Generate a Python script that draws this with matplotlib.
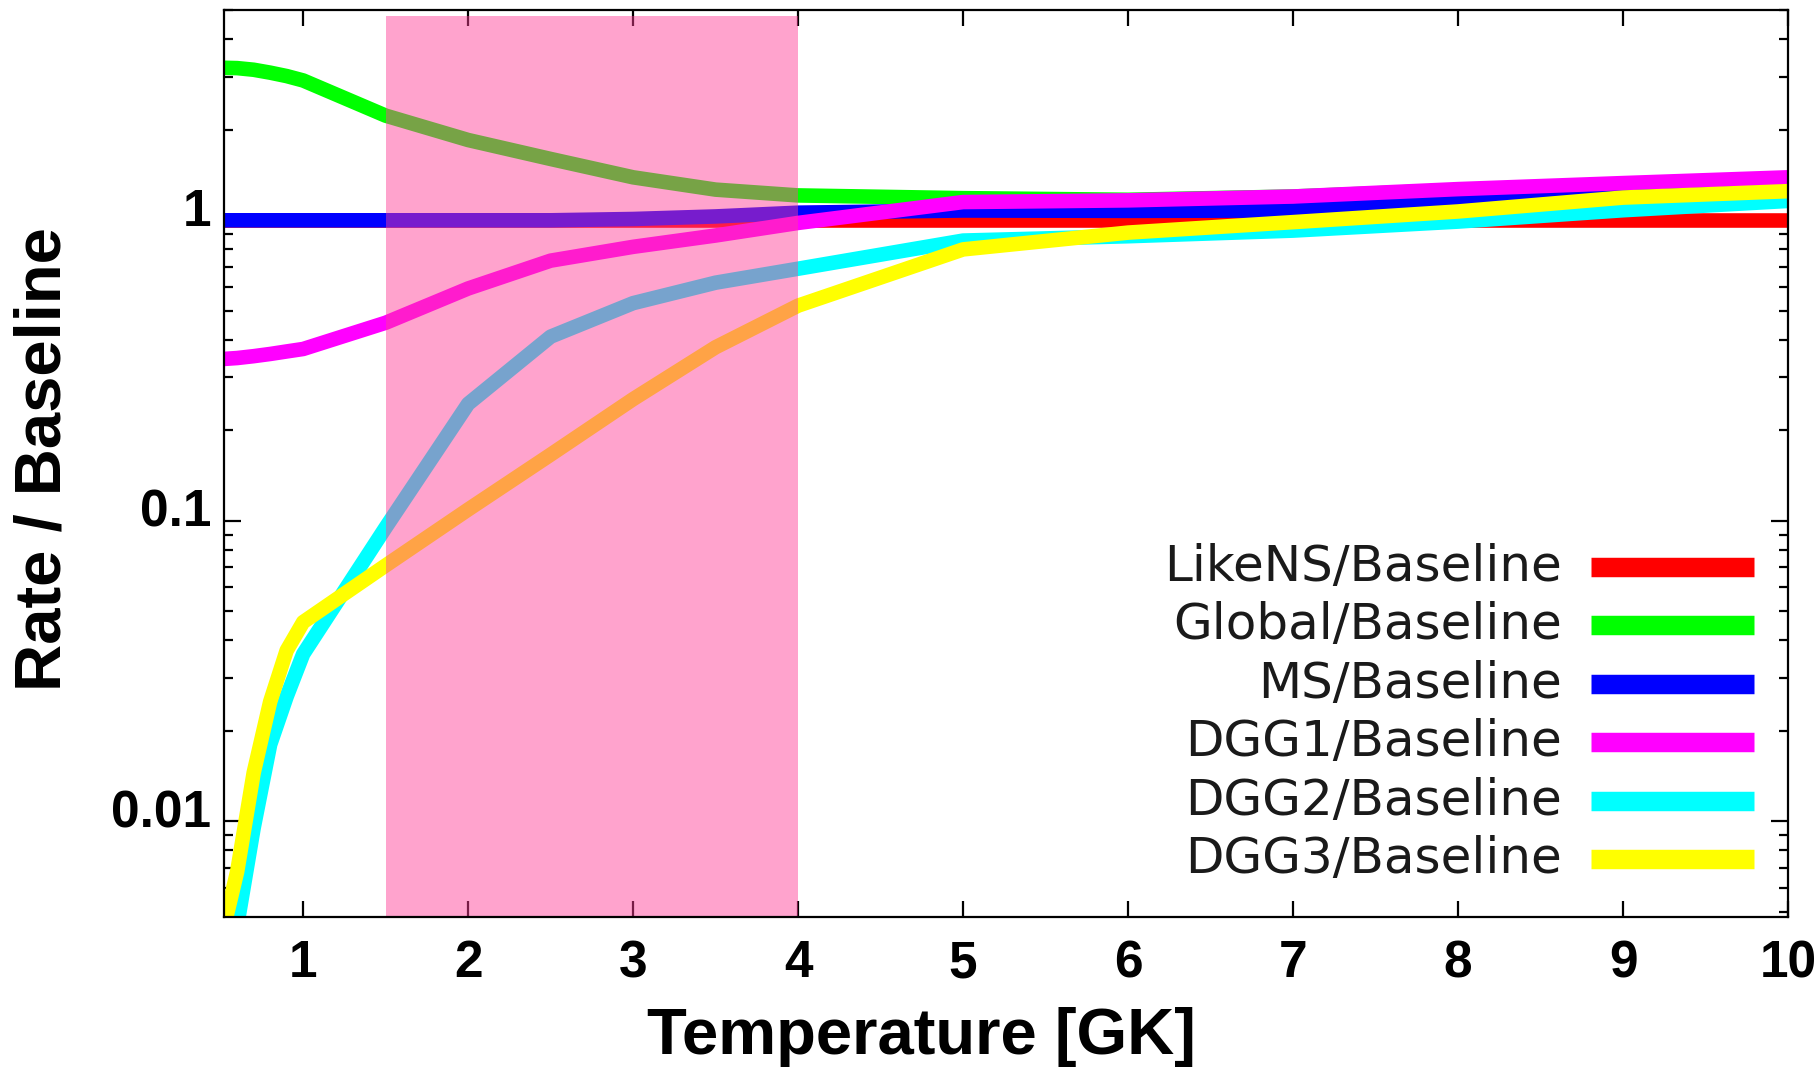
import matplotlib
matplotlib.use("Agg")
import matplotlib.pyplot as plt
import matplotlib.transforms as mtransforms
from matplotlib import font_manager

# data (ratio to baseline rate)
temps = [0.5, 0.6, 0.7, 0.8, 0.9, 1.0, 1.5, 2.0, 2.5, 3.0, 3.5, 4.0, 5.0, 6.0, 7.0, 8.0, 9.0, 10.0]
likens = [1.0, 1.0, 1.0, 1.0, 1.0, 1.0, 1.0, 1.0, 1.0, 1.0, 1.0, 1.0, 1.0, 1.0, 1.0, 1.0, 1.0, 1.0]
global_ = [3.22, 3.21, 3.17, 3.10, 3.02, 2.92, 2.23, 1.85, 1.60, 1.39, 1.265, 1.21, 1.185, 1.17, 1.20, 1.26, 1.32, 1.37]
ms = [1.0, 1.0, 1.0, 1.0, 1.0, 1.0, 1.0, 1.0, 1.0, 1.01, 1.03, 1.06, 1.078, 1.075, 1.078, 1.15, 1.25, 1.30]
dgg1 = [0.345, 0.348, 0.353, 0.359, 0.366, 0.373, 0.456, 0.593, 0.734, 0.816, 0.89, 0.98, 1.15, 1.165, 1.20, 1.27, 1.33, 1.39]
dgg2 = [0.0022, 0.0045, 0.0095, 0.018, 0.026, 0.036, 0.095, 0.245, 0.41, 0.53, 0.62, 0.69, 0.856, 0.885, 0.924, 0.99, 1.08, 1.16]
dgg3 = [0.004, 0.0068, 0.0145, 0.025, 0.037, 0.046, 0.071, 0.109, 0.166, 0.254, 0.378, 0.52, 0.80, 0.91, 0.986, 1.07, 1.19, 1.25]

labels = ["LikeNS/Baseline", "Global/Baseline", "MS/Baseline",
          "DGG1/Baseline", "DGG2/Baseline", "DGG3/Baseline"]
colors = ["#ff0000", "#00ff00", "#0000ff", "#ff00ff", "#00ffff", "#ffff00"]

xticks = [1, 2, 3, 4, 5, 6, 7, 8, 9, 10]
yticks = [0.01, 0.1, 1]
ytick_labels = ["0.01", "0.1", "1"]
band = (1.5, 4.0)


def pick_font(name, fallback):
    try:
        font_manager.findfont(font_manager.FontProperties(family=name),
                              fallback_to_default=False)
        return name
    except Exception:
        return fallback


bold_font = pick_font("Liberation Sans", "DejaVu Sans")

fig = plt.figure(figsize=(18.18, 10.71), dpi=100)
ax = fig.add_axes([0.1232, 0.1438, 0.8603, 0.8466])

series = [likens, global_, ms, dgg1, dgg2, dgg3]
for vals, col in zip(series, colors):
    ax.plot(temps, vals, color=col, lw=10.5, solid_joinstyle="round",
            solid_capstyle="butt", zorder=2)

# shaded temperature window, laid over the curves
ax.axvspan(band[0], band[1], ymin=0, ymax=0.994, color=(1.0, 0.235, 0.59),
           alpha=0.47, lw=0, zorder=3)

ax.set_yscale("log")
ax.set_xlim(0.52, 10)
ax.set_ylim(0.0048, 5.0)

ax.set_xticks(xticks)
ax.set_xticklabels([str(t) for t in xticks])
ax.set_yticks(yticks)
ax.set_yticklabels(ytick_labels)
ax.minorticks_on()
ax.xaxis.set_minor_locator(matplotlib.ticker.NullLocator())
ax.yaxis.set_minor_formatter(matplotlib.ticker.NullFormatter())

ax.tick_params(which="both", direction="in", top=True, right=True, width=1.6,
               color="black")
ax.tick_params(axis="x", which="major", length=11.5, pad=16)
ax.tick_params(axis="y", which="major", length=12, pad=9)
ax.tick_params(axis="y", which="minor", length=6.5)
for lab in ax.get_xticklabels() + ax.get_yticklabels():
    lab.set_fontfamily(bold_font)
    lab.set_fontweight("bold")
    lab.set_fontsize(37)
# y tick labels sit a little above their ticks in the original
shift = mtransforms.ScaledTranslation(0, 13 / 100, fig.dpi_scale_trans)
for lab in ax.get_yticklabels():
    lab.set_transform(lab.get_transform() + shift)

for sp in ax.spines.values():
    sp.set_linewidth(1.6)
    sp.set_zorder(6)

ax.set_xlabel("Temperature [GK]", fontfamily=bold_font, fontweight="bold",
              fontsize=47, va="center")
ax.xaxis.set_label_coords(0.446, -0.132)
ax.set_ylabel("Rate / Baseline", fontfamily=bold_font, fontweight="bold",
              fontsize=47, va="center")
ax.yaxis.set_label_coords(-0.1157, 0.505)

# legend: right-aligned text followed by a line sample
row_y = 0.386
for lab, col in zip(labels, colors):
    ax.text(0.8553, row_y, lab, transform=ax.transAxes, ha="right", va="center",
            fontsize=36, fontfamily="DejaVu Sans", color="#1a1a1a", zorder=7)
    ax.plot([0.8738, 0.9784], [row_y, row_y], transform=ax.transAxes,
            color=col, lw=14, solid_capstyle="butt", zorder=7)
    row_y -= 0.0644

fig.savefig("out.png", dpi=100)
